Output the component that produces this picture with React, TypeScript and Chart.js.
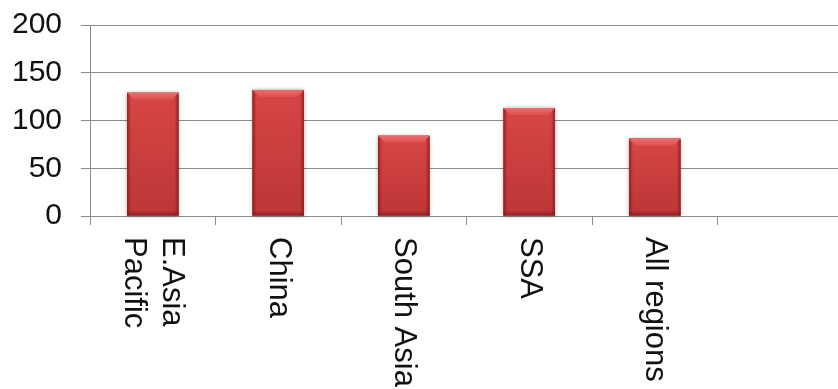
import React, { useEffect, useRef } from "react";
import { Chart, registerables } from "chart.js";

Chart.register(...registerables);

// Regions on the category axis (last slot is an empty category)
const regions: (string | string[])[] = [
  ["E.Asia", "Pacific"],
  "China",
  "South Asia",
  "SSA",
  "All regions",
  "",
];
const values: (number | null)[] = [129, 132, 84, 113, 81, null];
const yTickValues: number[] = [0, 50, 100, 150, 200];

const FONT = '"Liberation Sans", Arial, Helvetica, sans-serif';
const GRID = "#8a8a8a";
const TEXT = "#111111";

function barBoxes(chart: any) {
  const meta = chart.getDatasetMeta(0);
  const out: { left: number; right: number; top: number; bottom: number }[] = [];
  meta.data.forEach((el: any, i: number) => {
    if (values[i] == null || el.skip) return;
    const { x, y, width, base } = el.getProps(["x", "y", "width", "base"], true);
    if (!isFinite(y) || !isFinite(base)) return;
    out.push({ left: x - width / 2, right: x + width / 2, top: Math.min(y, base), bottom: Math.max(y, base) });
  });
  return out;
}

// Soft drop shadow behind each bar
const barShadow = {
  id: "barShadow",
  beforeDatasetsDraw(chart: any) {
    const ctx = chart.ctx;
    ctx.save();
    ctx.shadowColor = "rgba(0,0,0,0.35)";
    ctx.shadowBlur = 4;
    ctx.fillStyle = "#b83a3a";
    barBoxes(chart).forEach((b) => {
      ctx.fillRect(b.left, b.top, b.right - b.left, b.bottom - b.top);
    });
    ctx.restore();
  },
};

// Bevelled face for each bar
const barBevel = {
  id: "barBevel",
  afterDatasetsDraw(chart: any) {
    const ctx = chart.ctx;
    ctx.save();
    barBoxes(chart).forEach(({ left, right, top, bottom }) => {
      const width = right - left;
      const h = bottom - top;
      const bv = 7;

      const face = ctx.createLinearGradient(0, top, 0, bottom);
      face.addColorStop(0, "#d74646");
      face.addColorStop(1, "#bc3636");
      ctx.fillStyle = face;
      ctx.fillRect(left, top, width, h);

      // side shading
      const ls = ctx.createLinearGradient(left, 0, left + 4, 0);
      ls.addColorStop(0, "rgba(135,25,25,0.8)");
      ls.addColorStop(1, "rgba(135,25,25,0)");
      ctx.fillStyle = ls;
      ctx.fillRect(left, top, 4, h);
      const rs = ctx.createLinearGradient(right - 4, 0, right, 0);
      rs.addColorStop(0, "rgba(135,25,25,0)");
      rs.addColorStop(1, "rgba(135,25,25,0.8)");
      ctx.fillStyle = rs;
      ctx.fillRect(right - 4, top, 4, h);

      // bottom shading
      const bs = ctx.createLinearGradient(0, bottom - 5, 0, bottom);
      bs.addColorStop(0, "rgba(115,20,20,0)");
      bs.addColorStop(1, "rgba(115,20,20,0.65)");
      ctx.fillStyle = bs;
      ctx.fillRect(left, bottom - 5, width, 5);

      // top bevel
      const tb = ctx.createLinearGradient(0, top, 0, top + bv);
      tb.addColorStop(0, "#ee6c6c");
      tb.addColorStop(1, "#de5050");
      ctx.fillStyle = tb;
      ctx.beginPath();
      ctx.moveTo(left, top);
      ctx.lineTo(right, top);
      ctx.lineTo(right - bv, top + bv);
      ctx.lineTo(left + bv, top + bv);
      ctx.closePath();
      ctx.fill();
    });
    ctx.restore();
  },
};

// Category labels turned a quarter clockwise, read top to bottom
const rotatedLabels = {
  id: "rotatedLabels",
  afterDraw(chart: any) {
    const xs = chart.scales.x;
    const ctx = chart.ctx;
    const lineHeight = 37.5;
    ctx.save();
    ctx.font = `31px ${FONT}`;
    ctx.fillStyle = TEXT;
    ctx.textAlign = "left";
    ctx.textBaseline = "middle";
    regions.forEach((lab, i) => {
      const lines = Array.isArray(lab) ? lab : [lab];
      if (!lines.join("")) return;
      const cx = xs.getPixelForValue(i);
      ctx.save();
      ctx.translate(cx, xs.top + 21);
      ctx.rotate(Math.PI / 2);
      lines.forEach((t, j) => {
        const off = (j - (lines.length - 1) / 2) * lineHeight;
        ctx.fillText(t, 0, off);
      });
      ctx.restore();
    });
    ctx.restore();
  },
};

export default function App() {
  const canvasRef = useRef<HTMLCanvasElement | null>(null);

  useEffect(() => {
    const canvas = canvasRef.current;
    if (!canvas) return;
    const chart = new Chart(canvas, {
      type: "bar",
      data: {
        labels: regions.map((r) => (Array.isArray(r) ? r.join(" ") : r)),
        datasets: [
          {
            data: values,
            backgroundColor: "#c94242",
            borderWidth: 0,
            categoryPercentage: 1,
            barPercentage: 0.41,
          },
        ],
      },
      options: {
        animation: false,
        responsive: false,
        maintainAspectRatio: false,
        layout: { padding: { top: 25, right: 3, left: 0, bottom: 0 } },
        plugins: {
          legend: { display: false },
          tooltip: { enabled: false },
          title: { display: false },
        },
        scales: {
          x: {
            offset: true,
            grid: {
              offset: true,
              drawOnChartArea: false,
              drawTicks: true,
              tickLength: 9,
              color: GRID,
              lineWidth: 1,
            },
            border: { display: true, color: GRID, width: 1 },
            ticks: { display: false },
            afterFit(scale: any) {
              scale.height = 173;
            },
          },
          y: {
            min: 0,
            max: 200,
            afterBuildTicks(scale: any) {
              scale.ticks = yTickValues.map((v) => ({ value: v }));
            },
            grid: {
              color: GRID,
              lineWidth: 1,
              tickLength: 9,
              drawTicks: true,
            },
            border: { display: true, color: GRID, width: 1 },
            ticks: {
              padding: 19,
              color: TEXT,
              font: { family: FONT, size: 30 },
            },
            afterFit(scale: any) {
              scale.width = 90;
              scale.paddingTop = 0;
              scale.paddingBottom = 0;
            },
          },
        },
      },
      plugins: [barShadow, barBevel, rotatedLabels],
    });
    return () => chart.destroy();
  }, []);

  return (
    <div
      style={{
        position: "absolute",
        left: 0,
        top: 0,
        width: 838,
        height: 389,
        overflow: "hidden",
        background: "#ffffff",
      }}
    >
      <canvas
        ref={canvasRef}
        width={846}
        height={389}
        style={{ display: "block", width: 846, height: 389 }}
      />
    </div>
  );
}
